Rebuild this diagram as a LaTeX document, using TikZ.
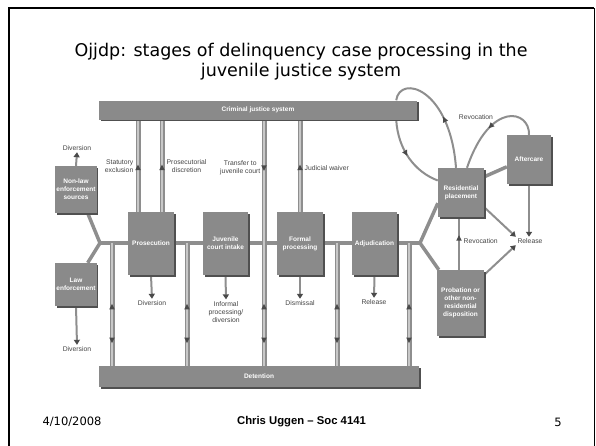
\documentclass[tikz,border=0pt]{standalone}
\usepackage{fontspec}
\setmainfont{DejaVu Sans}
\newfontfamily\labelfont{Liberation Sans}
\usetikzlibrary{calc,backgrounds,positioning,shadows,arrows.meta,decorations.markings}

\definecolor{boxgray}{HTML}{8A8A8A}
\definecolor{shadegray}{HTML}{505050}
\definecolor{pipegray}{HTML}{8E8E8E}
\definecolor{pipelight}{HTML}{C8C8C8}
\definecolor{tipgray}{HTML}{4A4A4A}
\definecolor{labelgray}{HTML}{444444}

\tikzset{
  stage/.style={rectangle, fill=boxgray, text=white, align=center, inner sep=1pt,
    font=\labelfont\fontsize{6.5}{8}\selectfont\bfseries,
    general shadow={fill=shadegray, shadow xshift=1.5pt, shadow yshift=-1.5pt}},
  note/.style={text=labelgray, align=center, inner sep=1.5pt,
    font=\labelfont\fontsize{6.8}{8.4}\selectfont},
  trunk/.style={draw=pipegray, line width=3.5pt},
  duct/.style={draw=pipegray, line width=1.4pt, double=pipelight, double distance=2.2pt},
  link/.style={draw=pipegray, line width=2pt},
  exit/.style={link, -{Triangle[length=5pt,width=6pt,color=tipgray]}},
  tipat/.style={postaction={decorate,decoration={markings,
    mark=at position #1 with {\fill[tipgray] (3pt,0pt) -- (-2.5pt,2.8pt) -- (-2.5pt,-2.8pt) -- cycle;}}}},
  tipback/.style={postaction={decorate,decoration={markings,
    mark=at position #1 with {\fill[tipgray] (-3pt,0pt) -- (2.5pt,2.8pt) -- (2.5pt,-2.8pt) -- cycle;}}}},
}

\begin{document}
\begin{tikzpicture}[x=1pt,y=-1pt]
\useasboundingbox (0,0) rectangle (596,445);
\draw[line width=2.6pt] (9,447) -- (9,8) -- (594,8);
\draw[line width=1pt] (594,8) -- (594,447);

\node[font=\fontsize{17.5}{20}\selectfont, align=center, inner sep=0pt] (title) at (301,62)
  {Ojjdp: stages of delinquency case processing in the\\juvenile justice system};

% bars
\node[stage, minimum width=318pt, minimum height=19pt] (cjs) at (258,110) {Criminal justice system};
\node[stage, minimum width=320pt, minimum height=21pt] (det) at (259,376.5) {Detention};

% stages
\node[stage, minimum width=41pt, minimum height=47pt] (nonlaw) at (76,189.5) {Non-law\\enforcement\\sources};
\node[stage, minimum width=41pt, minimum height=43pt] (law) at (76,284.5) {Law\\enforcement};
\node[stage, minimum width=46pt, minimum height=63pt] (pros) at (151,243.5) {Prosecution};
\node[stage, minimum width=45pt, minimum height=63pt] (intake) at (225.5,243.5) {Juvenile\\court intake};
\node[stage, minimum width=46pt, minimum height=63pt] (formal) at (300,243.5) {Formal\\processing};
\node[stage, minimum width=45pt, minimum height=63pt] (adjud) at (374.5,243.5) {Adjudication};
\node[stage, minimum width=46pt, minimum height=49pt] (resid) at (461,192.5) {Residential\\placement};
\node[stage, minimum width=44pt, minimum height=49pt] (after) at (529,159.5) {Aftercare};
\node[stage, minimum width=47pt, minimum height=66pt] (prob) at (460.5,303) {Probation or\\other non-\\residential\\disposition};

% outcomes
\node[note] (divtop) at (77,148) {Diversion};
\node[note] (divlaw) at (77,349) {Diversion};
\node[note] (divpros) at (152,303) {Diversion};
\node[note] (informal) at (226,312) {Informal\\processing/\\diversion};
\node[note] (dismiss) at (300,303) {Dismissal};
\node[note] (release) at (374,302) {Release};
\node[note] (final) at (530,241) {Release};
\node[note] (revtop) at (476,117) {Revocation};
\node[note, anchor=west] (revmid) at (462,241) {Revocation};
\node[note, anchor=east, align=right] (statlbl) at (135,166) {Statutory\\exclusion};
\node[note, anchor=west] (proslbl) at (165,166) {Prosecutorial\\discretion};
\node[note, anchor=east] (translbl) at (262,168) {Transfer to\\juvenile court};
\node[note, anchor=west] (judlbl) at (303,168) {Judicial waiver};

% footer
\node[font=\fontsize{11.5}{14}\selectfont] (date) at (72,422) {4/10/2008};
\node[font=\labelfont\fontsize{11.3}{14}\selectfont\bfseries] (course) at (301.5,422) {Chris Uggen – Soc 4141};
\node[font=\fontsize{11.5}{14}\selectfont] (page) at (558,422) {5};

\coordinate (forkL) at (100,243);
\coordinate (forkR) at (420,243);
\coordinate (statx) at (138,0);
\coordinate (discx) at (162,0);
\coordinate (transx) at (264,0);
\coordinate (waivex) at (300,0);
\coordinate (revx) at (459,0);

\begin{scope}[on background layer]
% main flow
\draw[trunk] ([xshift=-9pt]nonlaw.south east) -- (forkL) -- ([xshift=-9pt]law.north east);
\draw[trunk] (forkL) -- (forkR);
\draw[trunk] ([yshift=14pt]resid.south west) -- (forkR) -- ([xshift=2pt]prob.north west);
\draw[trunk] ([yshift=-9pt]resid.north east) -- ([yshift=-32pt]after.north west);
% to and from criminal justice system
\draw[duct, tipat=0.48] (statx |- pros.north) -- (statx |- cjs.south);
\draw[duct, tipat=0.48] (discx |- pros.north) -- (discx |- cjs.south);
\draw[duct, tipat=0.39] (transx |- cjs.south) -- (transx |- forkL);
\draw[duct, tipat=0.48] (waivex |- formal.north) -- (waivex |- cjs.south);
% detention
\foreach \px in {112,187,264,337,409} {
  \coordinate (top) at (\px,243);
  \draw[duct, tipback=0.52, tipat=0.79] (top) -- (top |- det.north);
}
% exits
\draw[exit] (nonlaw.north) -- (divtop.south);
\draw[exit] (law.south) -- (divlaw.north);
\draw[exit] (pros.south) -- (divpros.north);
\draw[exit] (intake.south) -- (informal.north);
\draw[exit] (formal.south) -- (dismiss.north);
\draw[exit] (adjud.south) -- (release.north);
\draw[exit] (after.south) -- (after.south |- final.north);
\draw[exit] ([yshift=10pt]resid.south east) -- (final.north west);
\draw[exit] ([yshift=-5pt]prob.north east) -- (final.south west);
% revocations
\draw[link, tipat=0.6] (revx |- prob.north) -- (revx |- resid.south);
\draw[link, tipat=0.52] (after.north) .. controls (530,110) and (490,100) .. ([xshift=6pt]resid.north);
\draw[link, tipat=0.42] ([xshift=-5pt]resid.north) .. controls (450,88) and (400,74) .. ([xshift=-21pt]cjs.north east);
\draw[link, tipat=0.45] ([xshift=-21pt]cjs.south east) .. controls (398,150) and (415,172) .. ([yshift=12pt]resid.south west |- resid.west);
\end{scope}
\end{tikzpicture}
\end{document}
